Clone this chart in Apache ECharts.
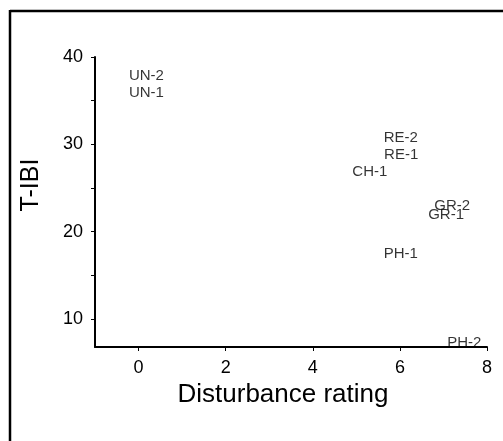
<!DOCTYPE html>
<html>
<head>
<meta charset="utf-8">
<script src="https://cdn.jsdelivr.net/npm/echarts@6/dist/echarts.min.js"></script>
<style>
html,body{margin:0;padding:0;background:#fff;}
#c{width:503px;height:441px;}
</style>
</head>
<body>
<div id="c"></div>
<script>
// Site labels and their coordinates
var sites = ['UN-2','UN-1','RE-2','RE-1','CH-1','GR-2','GR-1','PH-1','PH-2'];
var disturbance = [0.18, 0.18, 6.02, 6.03, 5.31, 7.2, 7.06, 6.02, 7.48];
var tibi = [37.8, 35.9, 30.7, 28.8, 26.8, 23.0, 21.9, 17.5, 7.3];
var xTickLabels = [0, 2, 4, 6, 8];
var yTickLabels = [10, 20, 30, 40];
var yTicks = [10, 15, 20, 25, 30, 35, 40];

var FONT = '"Liberation Sans", Arial, sans-serif';
var data = sites.map(function (s, i) { return [disturbance[i], tibi[i], s]; });

var chart = echarts.init(document.getElementById('c'), null, {renderer: 'canvas'});
chart.setOption({
  backgroundColor: '#fff',
  animation: false,
  grid: {left: 95, right: 16, top: 57, bottom: 94, containLabel: false},
  xAxis: {
    type: 'value', min: -1, max: 8,
    name: 'Disturbance rating', nameLocation: 'middle', nameGap: 33,
    nameTextStyle: {fontFamily: FONT, fontSize: 26, color: '#000', padding: [0, 16, 0, 0]},
    axisLine: {show: true, onZero: false, lineStyle: {color: '#000', width: 2}},
    axisTick: {show: true, length: 4, inside: false, customValues: xTickLabels, lineStyle: {color: '#000', width: 1}},
    axisLabel: {customValues: xTickLabels, margin: 12, fontFamily: FONT, fontSize: 18, color: '#000'},
    splitLine: {show: false}
  },
  yAxis: {
    type: 'value', min: 6.8, max: 40,
    name: 'T-IBI', nameLocation: 'middle', nameGap: 51, nameRotate: 90,
    nameTextStyle: {fontFamily: FONT, fontSize: 25, color: '#000', padding: [0, 0, 0, 34]},
    axisLine: {show: true, onZero: false, lineStyle: {color: '#000', width: 2}},
    axisTick: {show: true, length: 4, inside: false, customValues: yTicks, lineStyle: {color: '#000', width: 1}},
    axisLabel: {customValues: yTickLabels, margin: 12, fontFamily: FONT, fontSize: 18, color: '#000'},
    splitLine: {show: false}
  },
  series: [{
    type: 'scatter',
    data: data,
    symbolSize: 0,
    label: {
      show: true, position: 'inside', formatter: function (p) { return p.data[2]; },
      fontFamily: FONT, fontSize: 15, color: '#000', textBorderWidth: 0
    },
    emphasis: {disabled: true}
  }],
  graphic: [
    {type: 'line', shape: {x1: 10, y1: 11, x2: 503, y2: 11}, style: {stroke: '#000', lineWidth: 2.5}},
    {type: 'line', shape: {x1: 10, y1: 10, x2: 10, y2: 441}, style: {stroke: '#000', lineWidth: 2.5}}
  ]
});
</script>
</body>
</html>
